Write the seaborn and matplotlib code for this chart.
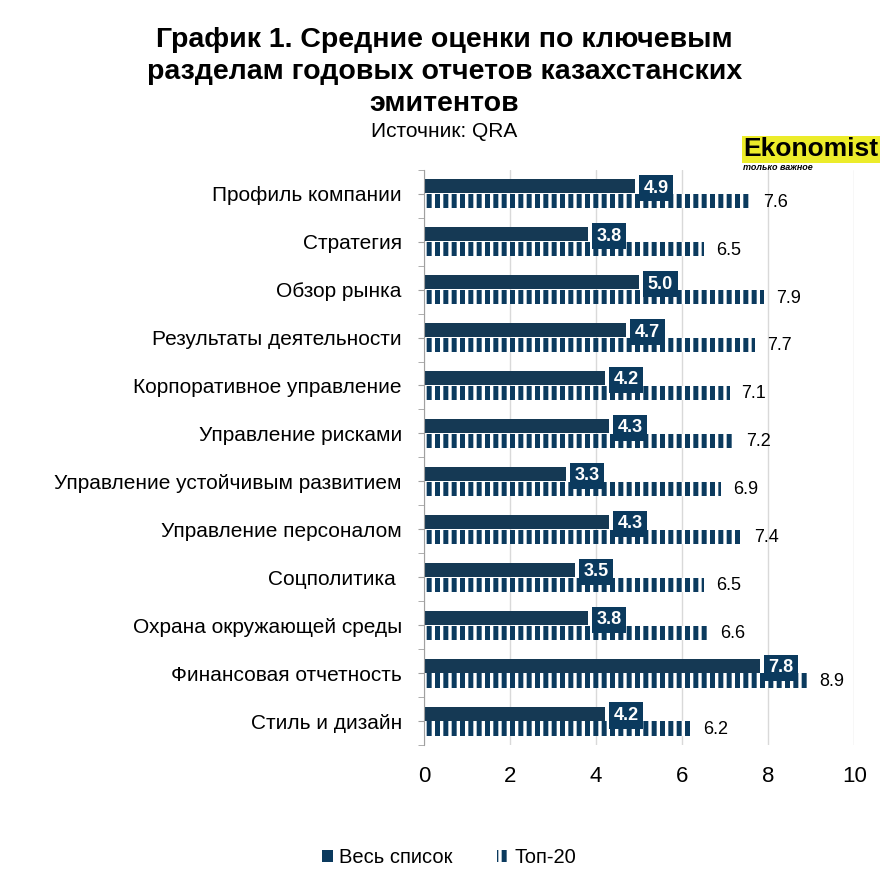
import numpy as np
import pandas as pd
import seaborn as sns
import matplotlib.pyplot as plt
from matplotlib.patches import Patch

categories = ['Профиль компании', 'Стратегия', 'Обзор рынка', 'Результаты деятельности',
              'Корпоративное управление', 'Управление рисками',
              'Управление устойчивым развитием', 'Управление персоналом', 'Соцполитика ',
              'Охрана окружающей среды', 'Финансовая отчетность', 'Стиль и дизайн']
all_list = [4.9, 3.8, 5.0, 4.7, 4.2, 4.3, 3.3, 4.3, 3.5, 3.8, 7.8, 4.2]
top20 = [7.6, 6.5, 7.9, 7.7, 7.1, 7.2, 6.9, 7.4, 6.5, 6.6, 8.9, 6.2]
series = ['Весь список', 'Топ-20']

navy = '#0b3a5e'

sns.set_style('white')
plt.rcParams['font.family'] = ['Liberation Sans', 'DejaVu Sans']
plt.rcParams['text.color'] = 'black'
plt.rcParams['xtick.color'] = 'black'
plt.rcParams['ytick.color'] = 'black'
plt.rcParams['hatch.color'] = navy
plt.rcParams['hatch.linewidth'] = 3.6

df = pd.DataFrame({
    'cat': categories * 2,
    'val': all_list + top20,
    'series': [series[0]] * len(categories) + [series[1]] * len(categories),
})

fig = plt.figure(figsize=(8.89, 8.89), dpi=100)
ax = fig.add_axes([0.477, 0.162, 0.484, 0.647])

sns.barplot(data=df, x='val', y='cat', hue='series', orient='h', width=0.62,
            palette=[navy, navy], gap=0.05, ax=ax, legend=False)

# second series: vertical stripes
for p in ax.containers[1]:
    p.set_facecolor('white')
    p.set_edgecolor(navy)
    p.set_linewidth(0)
    p.set_hatch('||')
for p in ax.containers[0]:
    p.set_linewidth(0)

for p, v in zip(ax.containers[0], all_list):
    y = p.get_y() + p.get_height() / 2
    ax.text(v + 0.2, y + 0.04, f'{v:.1f}', ha='left', va='center', color='white',
            fontsize=13, fontweight='bold',
            bbox=dict(boxstyle='square,pad=0.25', facecolor=navy, edgecolor='none'))
for p, v in zip(ax.containers[1], top20):
    y = p.get_y() + p.get_height() / 2
    ax.text(v + 0.28, y + 0.02, f'{v:.1f}', ha='left', va='center', color='black',
            fontsize=13)

ax.set_xlim(0, 10)
ax.set_ylim(11.5, -0.5)
ax.set_xticks([0, 2, 4, 6, 8, 10])
ax.xaxis.grid(True, color='#d9d9d9', linewidth=1)
ax.set_axisbelow(True)
ax.set_xlabel('')
ax.set_ylabel('')
ax.tick_params(axis='x', labelsize=16, length=0, pad=15)
ax.tick_params(axis='y', labelsize=15, length=4, color='#a0a0a0', pad=12, left=True)
ax.set_yticks(np.arange(-0.5, 12, 1), minor=True)
ax.tick_params(axis='y', which='minor', length=4, color='#a0a0a0', left=True)
for s in ['top', 'right', 'bottom']:
    ax.spines[s].set_visible(False)
ax.spines['left'].set_color('#a0a0a0')

fig.text(0.5, 0.97, 'График 1. Средние оценки по ключевым\nразделам годовых отчетов казахстанских\nэмитентов',
         ha='center', va='top', fontsize=20.5, fontweight='bold', linespacing=1.3)
fig.text(0.5, 0.852, 'Источник: QRA', ha='center', va='center', fontsize=15)

# logo
fig.text(0.836, 0.832, 'Ekonomist', ha='left', va='center', fontsize=19, fontweight='bold',
         bbox=dict(boxstyle='square,pad=0.05', facecolor='#ecec2a', edgecolor='none'))
fig.text(0.836, 0.812, 'только важное', ha='left', va='center', fontsize=6.5, style='italic',
         fontweight='bold')

handles = [Patch(facecolor=navy, edgecolor='none', label=series[0]),
           Patch(facecolor='white', edgecolor=navy, hatch='||', linewidth=0, label=series[1])]
fig.legend(handles=handles, loc='center', bbox_to_anchor=(0.505, 0.035), ncol=2, frameon=False,
           fontsize=14.5, handlelength=0.55, handleheight=0.55, handletextpad=0.3,
           columnspacing=2.2)

fig.savefig('out.png', dpi=100)
